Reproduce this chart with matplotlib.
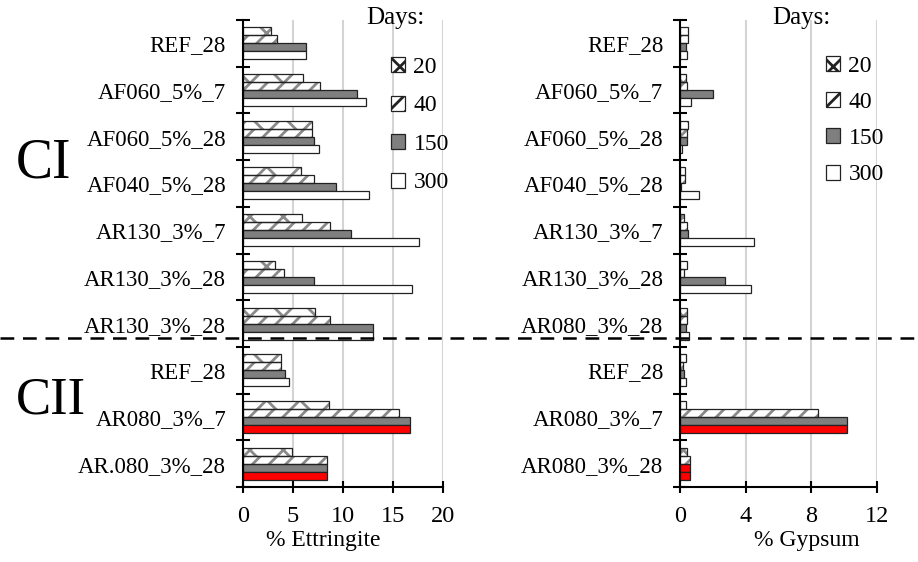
import matplotlib
matplotlib.use("Agg")
import matplotlib.pyplot as plt
from matplotlib.patches import Patch
from matplotlib.lines import Line2D
import numpy as np

plt.rcParams['font.family'] = ['Liberation Serif', 'DejaVu Serif']
plt.rcParams['hatch.linewidth'] = 2.0

# ---- data ----
days = ["20", "40", "150", "300"]
left_labels = ["REF_28", "AF060_5%_7", "AF060_5%_28", "AF040_5%_28", "AR130_3%_7",
               "AR130_3%_28", "AR130_3%_28", "REF_28", "AR080_3%_7", "AR.080_3%_28"]
right_labels = ["REF_28", "AF060_5%_7", "AF060_5%_28", "AF040_5%_28", "AR130_3%_7",
                "AR130_3%_28", "AR080_3%_28", "REF_28", "AR080_3%_7", "AR080_3%_28"]

ettr_20 = [2.8, 6.0, 6.9, 5.8, 5.9, 3.2, 7.2, 3.8, 8.6, 4.9]
ettr_40 = [3.4, 7.7, 6.9, 7.1, 8.7, 4.1, 8.7, 3.8, 15.6, 8.4]
ettr_150 = [6.3, 11.4, 7.1, 9.3, 10.8, 7.1, 13.0, 4.2, 16.7, 8.4]
ettr_300 = [6.3, 12.3, 7.6, 12.6, 17.6, 16.9, 13.0, 4.6, 16.7, 8.4]

gyp_20 = [0.5, 0.35, 0.5, 0.3, 0.25, 0.45, 0.45, 0.35, 0.35, 0.45]
gyp_40 = [0.5, 0.4, 0.45, 0.3, 0.45, 0.25, 0.4, 0.2, 8.4, 0.6]
gyp_150 = [0.35, 2.0, 0.4, 0.05, 0.5, 2.75, 0.35, 0.25, 10.2, 0.6]
gyp_300 = [0.4, 0.7, 0.1, 1.15, 4.5, 4.3, 0.55, 0.35, 10.2, 0.6]

# bars drawn in red (group index, series index)
left_red = [(8, 3), (9, 3)]
right_red = [(8, 3), (9, 2), (9, 3)]

# ---- styles ----
GRAY = "#7f7f7f"
HATCH_GRAY = "#8a8a8a"
RED = "#ff0000"
EDGE = "#222222"
styles = [
    dict(face="white", hatch="x", hcolor=HATCH_GRAY),
    dict(face="white", hatch="//", hcolor=HATCH_GRAY),
    dict(face=GRAY, hatch=None, hcolor=None),
    dict(face="white", hatch=None, hcolor=None),
]

W, H = 918, 562
fig = plt.figure(figsize=(W / 100, H / 100), dpi=100)

def ax_rect(x0, x1, y0, y1):
    return [x0 / W, 1 - y1 / H, (x1 - x0) / W, (y1 - y0) / H]

axL = fig.add_axes(ax_rect(242.7, 443.3, 20, 487))
axR = fig.add_axes(ax_rect(680, 877, 20, 487))

bh = 0.171
ytick_fs = 16.5
xtick_fs = 17.5

def draw(ax, labels, series, red, xmax, xticks, xlabel, xlabel_x):
    n = len(labels)
    y = np.arange(n)
    for i, vals in enumerate(series):
        st = styles[i]
        pos = y + (i - 1.5) * bh
        hatched = [g for g in range(n) if (g, i) not in red and st["hatch"]]
        plain = [g for g in range(n) if g not in hatched]
        if hatched:
            ax.barh(pos[hatched], [vals[g] for g in hatched], height=bh,
                    color="white", hatch=st["hatch"], edgecolor=st["hcolor"],
                    linewidth=0, zorder=3)
            ax.barh(pos[hatched], [vals[g] for g in hatched], height=bh,
                    fill=False, edgecolor=EDGE, linewidth=0.9, zorder=4)
        if plain:
            faces = [RED if (g, i) in red else st["face"] for g in plain]
            ax.barh(pos[plain], [vals[g] for g in plain], height=bh,
                    color=faces, edgecolor=EDGE, linewidth=0.9, zorder=3)
    ax.set_ylim(n - 0.5, -0.5)
    ax.set_xlim(0, xmax)
    ax.set_yticks(y)
    ax.set_yticklabels(labels, fontsize=ytick_fs)
    ax.set_yticks(np.arange(n + 1) - 0.5, minor=True)
    ax.tick_params(axis="y", which="major", length=0, pad=12)
    ax.tick_params(axis="y", which="minor", direction="inout", length=9.5, width=1.5)
    ax.set_xticks(xticks)
    ax.tick_params(axis="x", direction="inout", length=9, width=1.5,
                   labelsize=xtick_fs, pad=9)
    for s in ["top", "right"]:
        ax.spines[s].set_visible(False)
    for s in ["left", "bottom"]:
        ax.spines[s].set_linewidth(1.5)
        ax.spines[s].set_zorder(5)
    ax.grid(axis="x", color="#d4d4d4", linewidth=1.5, zorder=0)
    ax.set_axisbelow(True)
    ax.set_xlabel(xlabel, fontsize=17)
    ax.xaxis.set_label_coords(xlabel_x, -0.093)

draw(axL, left_labels, [ettr_20, ettr_40, ettr_150, ettr_300], left_red,
     20, [0, 5, 10, 15, 20], "% Ettringite", 0.40)
draw(axR, right_labels, [gyp_20, gyp_40, gyp_150, gyp_300], right_red,
     12, [0, 4, 8, 12], "% Gypsum", 0.643)

# legends
def make_handles():
    hs = []
    for st in styles:
        if st["hatch"]:
            hs.append(Patch(facecolor="white", edgecolor=EDGE, hatch=st["hatch"],
                            linewidth=0.9))
        else:
            hs.append(Patch(facecolor=st["face"], edgecolor=EDGE, linewidth=0.9))
    return hs

for ax, hx, top, spacing, dx in [(axL, 391, 57, 0.74, 366), (axR, 826, 56, 0.64, 772)]:
    ax.legend(make_handles(), days, loc="upper left",
              bbox_to_anchor=(hx / W, 1 - top / H), bbox_transform=fig.transFigure,
              frameon=False, fontsize=17, handlelength=0.6, handleheight=0.6,
              handletextpad=0.35, labelspacing=spacing, borderpad=0, borderaxespad=0)
    fig.text(dx / W, 1 - 18 / H, "Days:", fontsize=18, ha="left", va="center")

# group labels
fig.text(16 / W, 1 - 163 / H, "CI", fontsize=40, ha="left", va="center")
fig.text(16 / W, 1 - 401 / H, "CII", fontsize=38, ha="left", va="center")

# dashed separator
fig.add_artist(Line2D([0, 1], [1 - 338 / H, 1 - 338 / H], transform=fig.transFigure,
                      color="black", linewidth=1.8, dashes=(5.5, 3.5)))

fig.savefig("out.png", dpi=100)
